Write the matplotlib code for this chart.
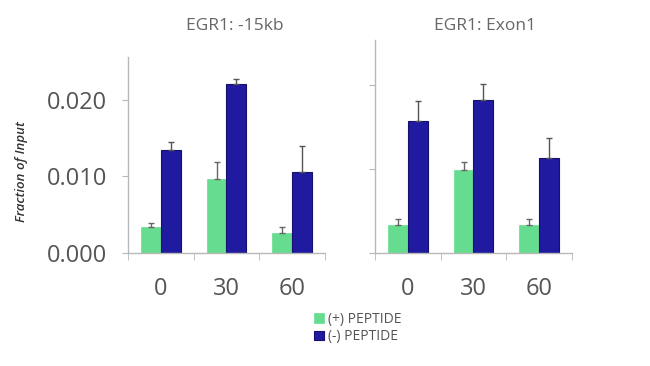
import matplotlib
matplotlib.use("Agg")
import matplotlib.pyplot as plt
import numpy as np

categories = ["0", "30", "60"]
titles = ["EGR1: -15kb", "EGR1: Exon1"]
series_names = ["(+) PEPTIDE", "(-) PEPTIDE"]

left_plus = [0.0034, 0.0097, 0.0026]
left_plus_err = [0.0005, 0.0022, 0.0008]
left_minus = [0.0134, 0.0221, 0.0106]
left_minus_err = [0.0011, 0.0006, 0.0034]

right_plus = [0.0033, 0.0099, 0.0033]
right_plus_err = [0.0007, 0.0009, 0.0007]
right_minus = [0.0158, 0.0182, 0.0113]
right_minus_err = [0.0023, 0.0020, 0.0024]

yticks = [0.0, 0.01, 0.02]
ytick_labels = ["0.000", "0.010", "0.020"]

green = "#66dc90"
navy = "#1f1aa0"
navy_edge = "#15106e"
spine_c = "#b8b8b8"
text_c = "#555555"

plt.rcParams['font.family'] = ['Open Sans', 'DejaVu Sans']

fig = plt.figure(figsize=(6.5, 3.66), dpi=100)
ax1 = fig.add_axes([128/650, 113/366, 197/650, 196/366])
ax2 = fig.add_axes([375/650, 113/366, 197/650, 213/366])

x = np.arange(len(categories))
w = 0.3

def draw(ax, plus, pe, minus, me, ytop, labels):
    b1 = ax.bar(x - w/2, plus, w, color=green, edgecolor=green, linewidth=0.5)
    b2 = ax.bar(x + w/2, minus, w, color=navy, edgecolor=navy_edge, linewidth=0.8)
    ax.errorbar(x - w/2, plus, yerr=[np.zeros(3), pe], fmt='none', ecolor='#666666',
                elinewidth=1, capsize=2, capthick=1)
    ax.errorbar(x + w/2, minus, yerr=[np.zeros(3), me], fmt='none', ecolor='#555555',
                elinewidth=1, capsize=2, capthick=1)
    ax.set_xlim(-0.5, 2.5)
    ax.set_ylim(0, ytop)
    for s in ['top', 'right']:
        ax.spines[s].set_visible(False)
    for s in ['left', 'bottom']:
        ax.spines[s].set_color(spine_c)
        ax.spines[s].set_linewidth(1)
    ax.set_xticks(x)
    ax.set_xticklabels(categories, fontsize=17, color=text_c)
    ax.set_xticks([-0.5, 0.5, 1.5, 2.5], minor=True)
    ax.tick_params(axis='x', which='major', length=0, pad=17)
    ax.tick_params(axis='x', which='minor', length=5, color=spine_c)
    ax.set_yticks(yticks)
    if labels:
        ax.set_yticklabels(ytick_labels, fontsize=17, color=text_c)
    else:
        ax.set_yticklabels([])
    ax.tick_params(axis='y', length=4, color=spine_c, pad=11)
    return b1, b2

b1, b2 = draw(ax1, left_plus, left_plus_err, left_minus, left_minus_err, 0.0256, True)
draw(ax2, right_plus, right_plus_err, right_minus, right_minus_err, 0.0254, False)

fig.text(235/650, 1 - 26/366, titles[0], fontsize=12.5, color="#666666", ha='center', va='center')
fig.text(485/650, 1 - 26/366, titles[1], fontsize=12.5, color="#666666", ha='center', va='center')

fig.text(22/650, 1 - 172/366, "Fraction of Input", fontsize=9.5, color="#333333",
         style='italic', weight='semibold', rotation=90, ha='center', va='center')

fig.legend([b1, b2], series_names, loc='center', bbox_to_anchor=(358/650, 1 - 328/366),
           frameon=False, fontsize=10, handlelength=0.7, handleheight=0.7,
           handletextpad=0.3, labelspacing=0.2, labelcolor=text_c)

fig.savefig("out.png", dpi=100)
